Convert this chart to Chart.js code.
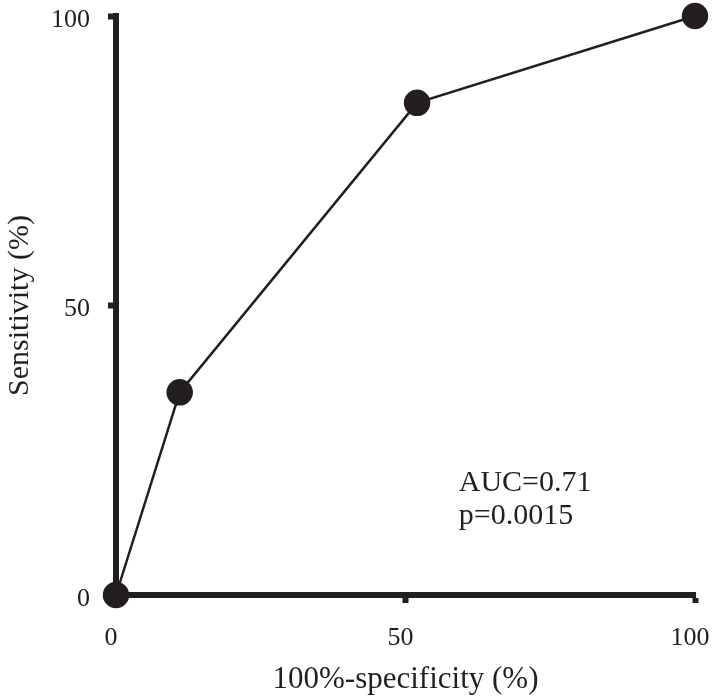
<!DOCTYPE html>
<html>
<head>
<meta charset="utf-8">
<script src="https://cdn.jsdelivr.net/npm/chart.js@4.4.0/dist/chart.umd.min.js"></script>
<style>
  html, body { margin: 0; padding: 0; background: #fff; }
  #wrap { width: 712px; height: 700px; }
</style>
</head>
<body>
<div id="wrap"><canvas id="roc"></canvas></div>
<script>
// ROC points
const specX = [0, 11, 52, 100];
const sensY = [0, 35, 85, 100];
const tickVals = [0, 50, 100];
const noteLines = ["AUC=0.71", "p=0.0015"];

const ink = "#231f20";
const serif = "'Liberation Serif', 'Times New Roman', serif";

// AUC / p text inside the plot area
const notePlugin = {
  id: "note",
  afterDraw(chart) {
    const { ctx, scales } = chart;
    ctx.save();
    ctx.fillStyle = ink;
    ctx.font = "30px " + serif;
    ctx.textBaseline = "middle";
    const x = scales.x.getPixelForValue(59.2);
    ctx.fillText(noteLines[0], x, scales.y.getPixelForValue(19.3));
    ctx.fillText(noteLines[1], x, scales.y.getPixelForValue(13.6));
    ctx.restore();
  }
};

// keep the plot edges where the figure has them (no label overhang padding)
function noPad(s) {
  s.paddingTop = 0; s.paddingBottom = 0; s.paddingLeft = 0; s.paddingRight = 0;
}

new Chart(document.getElementById("roc").getContext("2d"), {
  type: "scatter",
  data: {
    datasets: [{
      data: specX.map((x, i) => ({ x, y: sensY[i] })),
      showLine: true,
      borderColor: ink,
      borderWidth: 2.5,
      backgroundColor: ink,
      pointRadius: 12,
      pointHoverRadius: 12,
      clip: false
    }]
  },
  options: {
    responsive: true,
    maintainAspectRatio: false,
    animation: false,
    layout: { padding: { top: 16, right: 17, left: 0, bottom: 0 } },
    plugins: { legend: { display: false }, tooltip: { enabled: false } },
    scales: {
      x: {
        type: "linear",
        min: 0, max: 100,
        afterBuildTicks: (s) => { s.ticks = tickVals.map(v => ({ value: v })); },
        afterFit: (s) => { s.height = 105; noPad(s); },
        border: { display: true, width: 6, color: ink },
        grid: { drawOnChartArea: false, drawTicks: true, tickLength: 8, tickWidth: 6, tickColor: ink },
        ticks: { color: ink, padding: 20, labelOffset: -5, font: { family: serif, size: 26 } },
        title: { display: true, text: "100%-specificity (%)", color: ink, padding: { top: 4, bottom: 2 }, font: { family: serif, size: 31 } }
      },
      y: {
        type: "linear",
        min: 0, max: 100,
        afterBuildTicks: (s) => { s.ticks = tickVals.map(v => ({ value: v })); },
        afterFit: (s) => { s.width = 116; noPad(s); },
        border: { display: true, width: 6, color: ink },
        grid: { drawOnChartArea: false, drawTicks: true, tickLength: 8, tickWidth: 6, tickColor: ink },
        ticks: { color: ink, padding: 18, labelOffset: 4, font: { family: serif, size: 26 } },
        title: { display: true, text: "Sensitivity (%)", color: ink, padding: { top: 2, bottom: 4 }, font: { family: serif, size: 30 } }
      }
    }
  },
  plugins: [notePlugin]
});
</script>
</body>
</html>
